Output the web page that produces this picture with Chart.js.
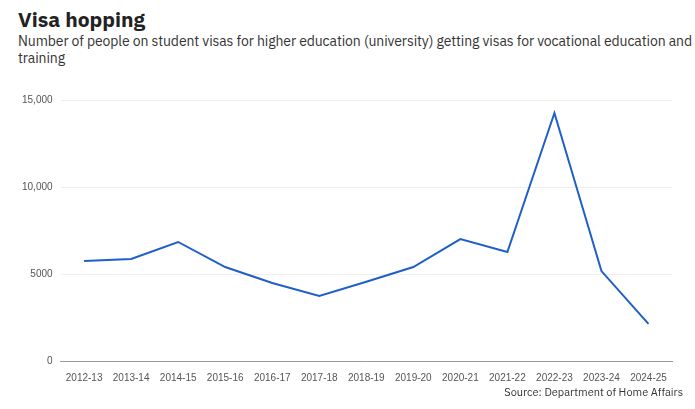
<!DOCTYPE html>
<html><head><meta charset="utf-8">
<script src="https://cdn.jsdelivr.net/npm/chart.js@4"></script>
<style>
body{margin:0;background:#fff;font-family:"IBM Plex Sans","Noto Sans",sans-serif;}
#t{position:absolute;left:18px;top:5px;font-size:21px;font-weight:bold;color:#222;}
#s{position:absolute;left:18px;top:33px;width:677px;font-size:14px;line-height:17px;color:#333;letter-spacing:-0.1px;}
#c{position:absolute;left:14px;top:86px;width:668px;height:301px;}
#src{position:absolute;right:12px;top:385px;font-size:11px;color:#333;}
</style></head><body>
<div id="t">Visa hopping</div>
<div id="s">Number of people on student visas for higher education (university) getting visas for vocational education and training</div>
<div id="c"><canvas id="cv"></canvas></div>
<div id="src">Source: Department of Home Affairs</div>
<script>
const categories=["2012-13","2013-14","2014-15","2015-16","2016-17","2017-18","2018-19","2019-20","2020-21","2021-22","2022-23","2023-24","2024-25"];
const values=[5750,5860,6840,5400,4480,3740,4550,5400,7010,6260,14250,5170,2130];
const tickLabels={0:"0",5000:"5000",10000:"10,000",15000:"15,000"};
new Chart(document.getElementById('cv'),{type:'line',
data:{labels:categories,datasets:[{data:values,borderColor:'#1f5fc8',borderWidth:2,pointRadius:0,tension:0}]},
options:{responsive:true,maintainAspectRatio:false,animation:false,
plugins:{legend:{display:false},tooltip:{enabled:false}},
layout:{padding:{right:10}},
scales:{x:{offset:true,grid:{display:false},border:{color:'#999'},ticks:{color:'#555',font:{size:10},maxRotation:0,autoSkip:false}},
y:{min:0,max:15000,grid:{color:'#eee',drawTicks:false},border:{display:false},
ticks:{stepSize:5000,color:'#555',font:{size:10},padding:8,callback:v=>tickLabels[v]}}}}});
</script></body></html>
